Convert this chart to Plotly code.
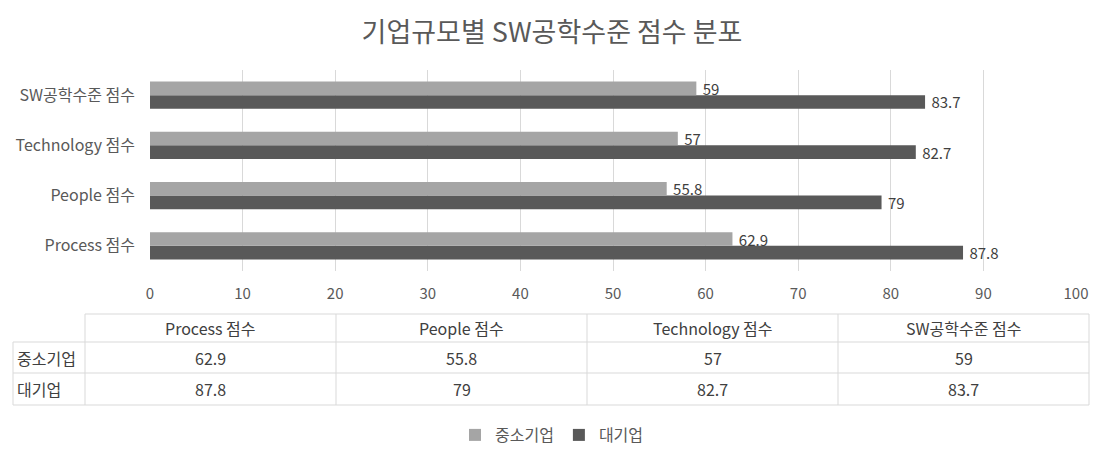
import plotly.graph_objects as go

W, H = 1104, 458

title = "기업규모별 SW공학수준 점수 분포"
categories = ["Process 점수", "People 점수", "Technology 점수", "SW공학수준 점수"]
series_names = ["중소기업", "대기업"]
sme_values = [62.9, 55.8, 57, 59]
large_values = [87.8, 79, 82.7, 83.7]
x_ticks = [0, 10, 20, 30, 40, 50, 60, 70, 80, 90, 100]

colors = {"중소기업": "#a5a5a5", "대기업": "#595959"}
FONT = "Noto Sans CJK KR, Malgun Gothic, sans-serif"
TXT = "#404040"
GRID = "#d9d9d9"

def px(x):
    return x / W

def py(y):
    return 1 - y / H

fig = go.Figure()
# dark (대기업) first so it sits below the light bar within each group
for name, vals, rank in [("대기업", large_values, 2), ("중소기업", sme_values, 1)]:
    fig.add_trace(go.Bar(
        y=categories, x=vals, name=name, orientation="h",
        marker=dict(color=colors[name], line=dict(width=0)),
        text=[f" {v:g}" for v in vals], textposition="outside",
        constraintext="none",
        textfont=dict(family=FONT, size=15, color=TXT),
        cliponaxis=False, legendrank=rank,
    ))

fig.update_layout(
    width=W, height=H,
    margin=dict(l=0, r=0, t=0, b=0, autoexpand=False),
    paper_bgcolor="white", plot_bgcolor="white",
    font=dict(family=FONT, size=15, color="#595959"),
    title=dict(text=title, x=0.5, xanchor="center", y=py(33), yanchor="middle",
               font=dict(family=FONT, size=27, color="#595959")),
    barmode="group", bargap=0.46, bargroupgap=0,
    xaxis=dict(domain=[px(150), px(1076)], range=[0, 100], tickvals=x_ticks,
               showgrid=True, gridcolor=GRID, gridwidth=1, zeroline=False,
               showline=False, ticks="", tickfont=dict(size=15, color="#595959"),
               ticklabelstandoff=12, automargin=False),
    yaxis=dict(domain=[py(271), py(70)], showgrid=False, zeroline=False,
               showline=False, ticks="", tickfont=dict(size=16, color="#595959"),
               ticklabelstandoff=14, categoryorder="array", categoryarray=categories,
               automargin=False),
    legend=dict(orientation="h", x=0.5, xanchor="center", y=py(435), yanchor="middle",
                font=dict(size=16, color="#595959"), itemwidth=30,
                traceorder="normal"),
    showlegend=True,
)

# --- data table below the chart ---
left_x, label_right, table_right = 13, 85, 1089
rows_y = [314, 342, 373, 405]
col_w = (table_right - label_right) / len(categories)
col_edges = [label_right + i * col_w for i in range(len(categories) + 1)]
shapes = []
line = dict(color=GRID, width=1)
shapes.append(dict(type="line", xref="paper", yref="paper", x0=px(label_right), x1=px(table_right),
                   y0=py(rows_y[0]), y1=py(rows_y[0]), line=line))
for yy in rows_y[1:]:
    shapes.append(dict(type="line", xref="paper", yref="paper", x0=px(left_x), x1=px(table_right),
                       y0=py(yy), y1=py(yy), line=line))
shapes.append(dict(type="line", xref="paper", yref="paper", x0=px(left_x), x1=px(left_x),
                   y0=py(rows_y[1]), y1=py(rows_y[-1]), line=line))
for xx in col_edges:
    shapes.append(dict(type="line", xref="paper", yref="paper", x0=px(xx), x1=px(xx),
                       y0=py(rows_y[0]), y1=py(rows_y[-1]), line=line))

tfont = dict(family=FONT, size=16, color=TXT)
annotations = []
for i, cat in enumerate(categories):
    cx = (col_edges[i] + col_edges[i + 1]) / 2
    annotations.append(dict(text=cat, x=px(cx), y=py((rows_y[0] + rows_y[1]) / 2),
                            xanchor="center", yanchor="middle",
                            xref="paper", yref="paper", showarrow=False, font=tfont))
    for r, vals in enumerate([sme_values, large_values]):
        annotations.append(dict(text=f"{vals[i]:g}", x=px(cx),
                                y=py((rows_y[r + 1] + rows_y[r + 2]) / 2),
                                xanchor="center", yanchor="middle",
                                xref="paper", yref="paper", showarrow=False, font=tfont))
for r, name in enumerate(series_names):
    annotations.append(dict(text=name, x=px(left_x + 2), xanchor="left",
                            y=py((rows_y[r + 1] + rows_y[r + 2]) / 2), yanchor="middle",
                            xref="paper", yref="paper", showarrow=False, font=tfont))

fig.update_layout(shapes=shapes, annotations=annotations)
fig.write_html("out.html")
